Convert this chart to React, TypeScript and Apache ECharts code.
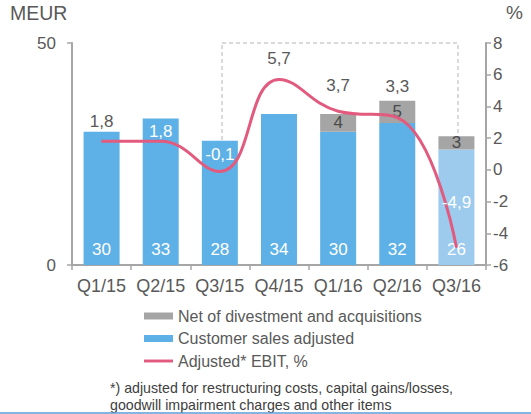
import React, { useEffect, useRef } from "react";
import * as echarts from "echarts";

const categories = ["Q1/15", "Q2/15", "Q3/15", "Q4/15", "Q1/16", "Q2/16", "Q3/16"];
const customerSales = [30, 33, 28, 34, 30, 32, 26];
const netDivestment: (number | null)[] = [null, null, null, null, 4, 5, 3];
const adjustedEbit = [1.8, 1.8, -0.1, 5.7, 3.7, 3.3, -4.9];
const leftTicks = { min: 0, max: 50, interval: 50 };
const rightTicks = { min: -6, max: 8, interval: 2 };

// label styling (not data)
const ebitLabelLift = [20, 10, 17, 21, 26, 31, 45];
const ebitLabelWhite = [false, true, true, false, false, false, true];

const TEXT = "#595959";
const AXIS = "#a6a6a6";
const BLUE = "#5eb1e6";
const LIGHT_BLUE = "#9ccbee";
const GRAY = "#a5a5a5";
const PINK = "#e25b7f";
const FONT = "'Liberation Sans', Arial, sans-serif";

export default function App() {
  const ref = useRef<HTMLDivElement>(null);
  useEffect(() => {
    document.body.style.margin = "0";
    const chart = echarts.init(ref.current!, null, { renderer: "svg" });
    const fmt = (v: number) => v.toFixed(1).replace(".", ",");
    chart.setOption({
      animation: false,
      textStyle: { fontFamily: FONT },
      grid: { left: 72, right: 45, top: 43, bottom: 149 },
      legend: {
        orient: "vertical",
        left: 144,
        top: 305,
        padding: 0,
        itemWidth: 29,
        itemHeight: 7,
        itemGap: 0.5,
        textStyle: { fontSize: 16, color: TEXT, lineHeight: 22, fontFamily: FONT },
        data: [
          { name: "Net of divestment and acquisitions", icon: "rect" },
          { name: "Customer sales adjusted", icon: "rect" },
          { name: "Adjusted* EBIT, %", icon: "path://M0,0h30v3h-30z", itemStyle: { color: PINK } },
        ],
      },
      xAxis: {
        type: "category",
        data: categories,
        axisLine: { lineStyle: { color: AXIS, width: 2 } },
        axisTick: { show: true, length: 5, lineStyle: { color: AXIS, width: 1.5 } },
        axisLabel: { color: TEXT, fontSize: 18, margin: 12, interval: 0 },
      },
      yAxis: [
        {
          type: "value",
          ...leftTicks,
          axisLine: { show: true, lineStyle: { color: AXIS, width: 2 } },
          axisTick: { show: true, length: 5, lineStyle: { color: AXIS, width: 1.5 } },
          axisLabel: { color: TEXT, fontSize: 17, margin: 16 },
          splitLine: { show: false },
        },
        {
          type: "value",
          position: "right",
          ...rightTicks,
          axisLine: { show: true, lineStyle: { color: AXIS, width: 2 } },
          axisTick: { show: true, length: 5, lineStyle: { color: AXIS, width: 1.5 } },
          axisLabel: { color: TEXT, fontSize: 17, margin: 7 },
          splitLine: { show: false },
        },
      ],
      graphic: [
        {
          type: "rect",
          z: 0,
          shape: { x: 222, y: 43, width: 236, height: 222 },
          style: { fill: "none", stroke: "#b4b4b4", lineWidth: 1, lineDash: [4, 3] },
        },
        {
          type: "text",
          left: 10,
          top: 3,
          style: { text: "MEUR", fontSize: 19.5, fill: TEXT, fontFamily: FONT },
        },
        {
          type: "text",
          left: 506,
          top: 3,
          style: { text: "%", fontSize: 19, fill: TEXT, fontFamily: FONT },
        },
        {
          type: "text",
          left: 110,
          top: 379,
          style: {
            text: "*) adjusted for restructuring costs, capital gains/losses,\ngoodwill impairment charges and other items",
            fontSize: 14.2,
            lineHeight: 17,
            fill: "#404040",
            fontFamily: FONT,
          },
        },
        {
          type: "line",
          shape: { x1: 0, y1: 413, x2: 531, y2: 413 },
          style: { stroke: "#5b9bd5", lineWidth: 1.5 },
        },
      ],
      series: [
        {
          name: "Customer sales adjusted",
          type: "bar",
          stack: "sales",
          barWidth: 36,
          itemStyle: { color: BLUE },
          data: customerSales.map((v, i) =>
            i === customerSales.length - 1 ? { value: v, itemStyle: { color: LIGHT_BLUE } } : v
          ),
          label: {
            show: true,
            position: "insideBottom",
            distance: 7,
            color: "#fff",
            fontSize: 17,
            fontFamily: FONT,
          },
          z: 2,
        },
        {
          name: "Net of divestment and acquisitions",
          type: "bar",
          stack: "sales",
          barWidth: 36,
          itemStyle: { color: GRAY },
          data: netDivestment.map((v) => (v === null ? "-" : v)),
          label: {
            show: true,
            position: "inside",
            color: "#4a4a4a",
            fontSize: 17,
            fontFamily: FONT,
          },
          z: 2,
        },
        {
          name: "Adjusted* EBIT, %",
          type: "line",
          yAxisIndex: 1,
          smooth: 0.45,
          symbol: "circle",
          symbolSize: 1,
          itemStyle: { color: PINK },
          lineStyle: { color: PINK, width: 3 },
          z: 5,
          data: adjustedEbit.map((v, i) => ({
            value: v,
            label: {
              show: true,
              position: "top",
              distance: ebitLabelLift[i] - 9,
              color: ebitLabelWhite[i] ? "#ffffff" : TEXT,
              fontSize: 17,
              fontFamily: FONT,
              formatter: () => fmt(v),
            },
          })),
        },
      ],
    });
    return () => chart.dispose();
  }, []);
  return (
    <div
      ref={ref}
      style={{ position: "absolute", left: 0, top: 0, width: 531, height: 414 }}
    />
  );
}
